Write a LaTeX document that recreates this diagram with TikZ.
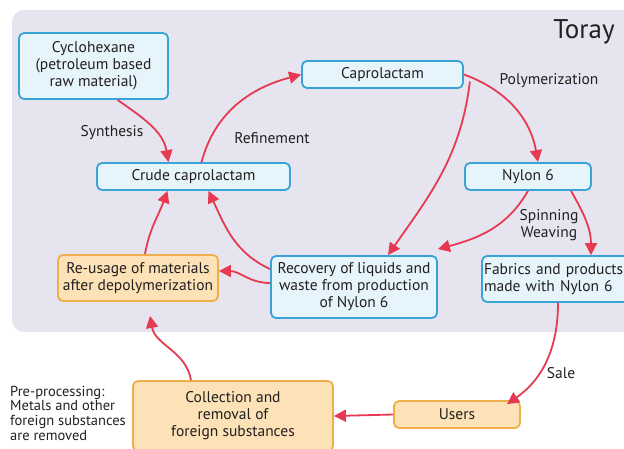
\documentclass[tikz,border=0pt]{standalone}
\usepackage{fontspec}
\setmainfont{PT Sans}
\usetikzlibrary{arrows.meta}
\definecolor{panel}{HTML}{E6E5EF}
\definecolor{bluefill}{HTML}{E6F5FB}
\definecolor{blueline}{HTML}{3AA3D6}
\definecolor{orfill}{HTML}{FCE2B6}
\definecolor{orline}{HTML}{EFAE4A}
\definecolor{arr}{HTML}{E63A52}
\definecolor{txt}{HTML}{231F20}
\tikzset{
  bbox/.style={draw=blueline, fill=bluefill, line width=1.8pt, rounded corners=5pt, align=center, inner sep=1pt, text=txt, font=\fontsize{15.5}{17}\selectfont},
  obox/.style={draw=orline, fill=orfill, line width=1.8pt, rounded corners=5pt, align=center, inner sep=1pt, text=txt, font=\fontsize{15.5}{17}\selectfont},
  conn/.style={draw=arr, line width=1.8pt, -{Triangle[length=12pt,width=12pt]}},
  lbl/.style={text=txt, font=\fontsize{15.5}{17}\selectfont, align=center},
}
\begin{document}
\begin{tikzpicture}[x=1pt,y=-1pt]
\useasboundingbox (0,0) rectangle (624,448);
\fill[panel, rounded corners=12pt] (12,10) rectangle (640,332);
\node[text=txt, font=\fontsize{27}{30}\selectfont] (toray) at (584,32) {Toray};

\node[bbox, minimum width=149pt, minimum height=66pt] (cyc) at (93.5,66) {Cyclohexane\\(petroleum based\\raw material)};
\node[bbox, minimum width=161pt, minimum height=27pt] (cap) at (382.5,74.5) {Caprolactam};
\node[bbox, minimum width=193pt, minimum height=27pt] (crude) at (193.5,176.5) {Crude caprolactam};
\node[bbox, minimum width=126pt, minimum height=27pt] (nylon) at (528,176.5) {Nylon 6};
\node[bbox, minimum width=166pt, minimum height=62pt] (rec) at (354,287) {Recovery of liquids and\\waste from production\\of Nylon 6};
\node[bbox, minimum width=146pt, minimum height=46pt, align=left, text width=142pt] (fab) at (555,279) {Fabrics and products\\made with Nylon 6};
\node[obox, minimum width=160pt, minimum height=46pt] (reuse) at (138,278) {Re-usage of materials\\after depolymerization};
\node[obox, minimum width=126pt, minimum height=27pt] (users) at (457,414.5) {Users};
\node[obox, minimum width=200pt, minimum height=70pt] (coll) at (233,416) {Collection and\\removal of\\foreign substances};

\node[lbl] (syn) at (112,133) {Synthesis};
\node[lbl] (ref) at (272,138) {Refinement};
\node[lbl] (pol) at (549,81) {Polymerization};
\node[lbl] (spin) at (549,225) {Spinning\\Weaving};
\node[lbl] (sale) at (561,373) {Sale};
\node[text=txt, align=left, anchor=west, inner sep=0pt, font=\fontsize{14.5}{14.7}\selectfont] (pre) at (10,413) {Pre-processing:\\Metals and other\\foreign substances\\are removed};

\draw[conn] (cyc.south) ++(24,0) coordinate (c1) (c1) to[out=-35, in=100] ([xshift=-25pt]crude.north);
\draw[conn] ([xshift=8pt]crude.north) to[out=75, in=195] (cap.west);
\draw[conn] (cap.east) to[out=-20, in=100] ([xshift=10pt]nylon.north);
\draw[conn] ([xshift=6pt,yshift=-7pt]cap.east) to[out=-97, in=55] ([xshift=34pt]rec.north);
\draw[conn] ([xshift=0pt]nylon.south) to[out=-120, in=15] ([yshift=6pt]rec.north east);
\draw[conn] ([xshift=43pt]nylon.south) to[out=-60, in=90] ([xshift=36pt]fab.north);
\draw[conn] (rec.west) ++(0,-4) coordinate (r1) (r1) to[out=180, in=0] ([yshift=7pt]reuse.east);
\draw[conn] ([yshift=-14pt]rec.north west) to[out=155, in=-65] ([xshift=15pt]crude.south);
\draw[conn] ([xshift=7pt]reuse.north) to[out=80, in=-110] ([xshift=-26pt]crude.south);
\draw[conn] ([xshift=3pt]fab.south) to[out=-90, in=35] ([xshift=50pt, yshift=-4pt]users.north);
\draw[conn] (users.west) to (coll.east);
\draw[conn] ([xshift=-42pt]coll.north) to[out=100, in=-80] ([xshift=12pt, yshift=-14pt]reuse.south);
\end{tikzpicture}
\end{document}
